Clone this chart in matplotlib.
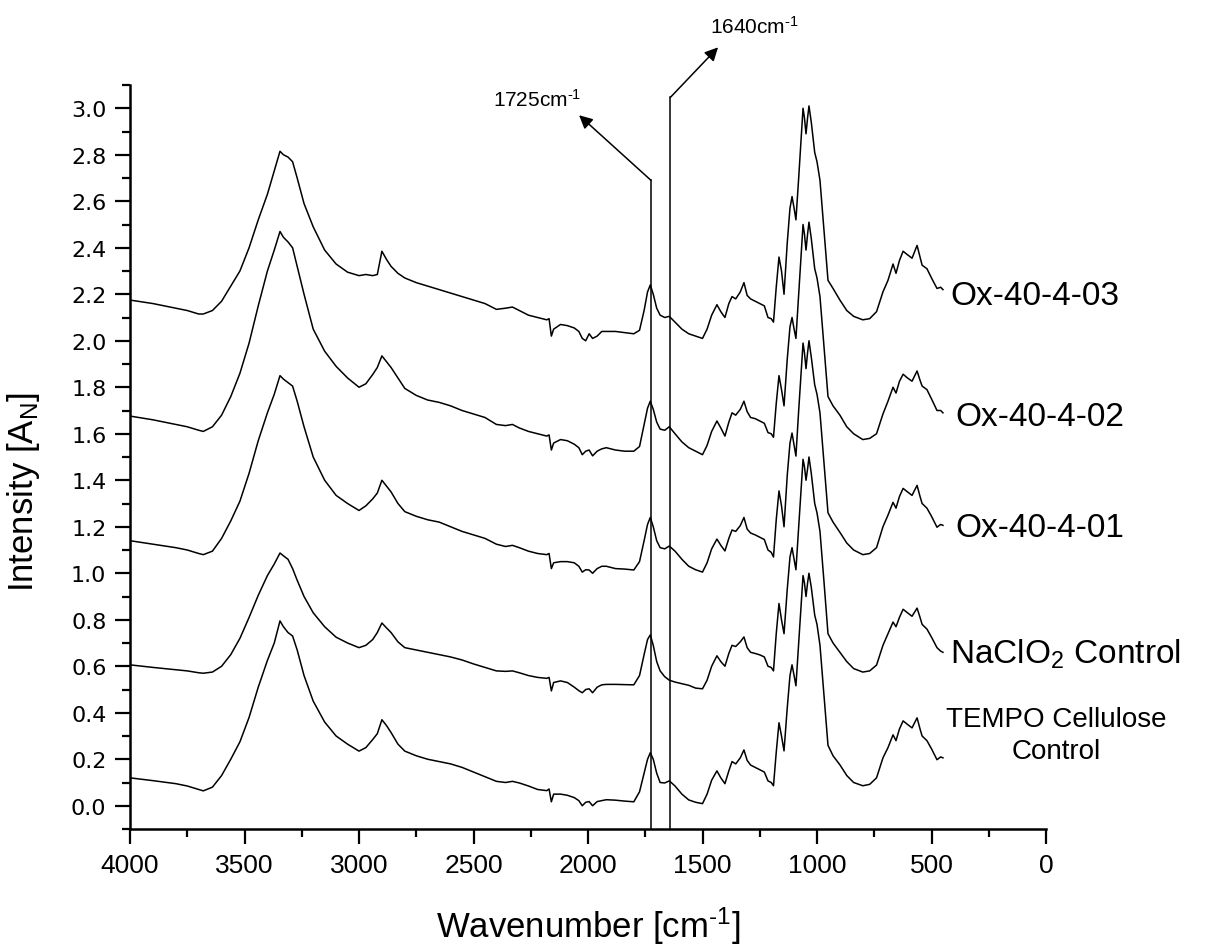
import numpy as np
import matplotlib.pyplot as plt
from matplotlib.ticker import MultipleLocator, FormatStrFormatter

plt.rcParams['mathtext.fontset'] = 'custom'
plt.rcParams['mathtext.rm'] = 'Liberation Sans'
plt.rcParams['mathtext.it'] = 'Liberation Sans:italic'

# wavenumber grid (cm-1) shared by all spectra
wn = [4000, 3900, 3800, 3750, 3700, 3680, 3640, 3600, 3560, 3520, 3480, 3440, 3400, 3370,
      3345, 3330, 3310, 3290, 3270, 3240, 3200, 3150, 3100, 3050, 3000, 2970, 2940, 2920,
      2900, 2880, 2860, 2830, 2800, 2750, 2700, 2650, 2600, 2550, 2500, 2450, 2400, 2360,
      2330, 2300, 2260, 2220, 2180, 2170, 2160, 2150, 2120, 2090, 2060, 2040, 2025, 2010,
      1995, 1980, 1960, 1940, 1920, 1880, 1840, 1800, 1775, 1755, 1740, 1728, 1715, 1700,
      1685, 1665, 1645, 1620, 1590, 1560, 1530, 1500, 1480, 1460, 1437, 1420, 1402, 1385,
      1371, 1355, 1335, 1319, 1305, 1290, 1270, 1250, 1230, 1214, 1200, 1190, 1178, 1166,
      1155, 1144, 1130, 1118, 1109, 1100, 1092, 1080, 1061, 1055, 1048, 1041, 1035, 1025,
      1010, 1000, 987, 970, 952, 930, 900, 870, 840, 800, 770, 740, 712, 690, 668, 655,
      640, 624, 605, 585, 563, 550, 541, 520, 500, 476, 460, 450]

tempo = [0.120, 0.108, 0.095, 0.085, 0.070, 0.064, 0.080, 0.130, 0.200, 0.275, 0.380, 0.510, 0.625, 0.700,
         0.795, 0.770, 0.745, 0.730, 0.670, 0.560, 0.450, 0.360, 0.300, 0.265, 0.235, 0.250, 0.285, 0.310,
         0.370, 0.345, 0.315, 0.265, 0.235, 0.215, 0.200, 0.190, 0.180, 0.165, 0.145, 0.125, 0.105, 0.100,
         0.105, 0.098, 0.085, 0.070, 0.065, 0.072, 0.017, 0.050, 0.050, 0.045, 0.035, 0.022, 0.000, 0.015,
         0.018, 0.000, 0.018, 0.022, 0.026, 0.024, 0.020, 0.017, 0.060, 0.140, 0.200, 0.228, 0.200, 0.140,
         0.100, 0.098, 0.107, 0.085, 0.050, 0.025, 0.015, 0.009, 0.050, 0.110, 0.150, 0.120, 0.095, 0.150,
         0.190, 0.180, 0.206, 0.240, 0.195, 0.175, 0.165, 0.155, 0.145, 0.107, 0.100, 0.086, 0.230, 0.357,
         0.300, 0.236, 0.420, 0.560, 0.606, 0.560, 0.516, 0.700, 0.990, 0.960, 0.900, 0.960, 1.000, 0.940,
         0.820, 0.780, 0.690, 0.480, 0.260, 0.215, 0.176, 0.130, 0.100, 0.086, 0.092, 0.120, 0.206, 0.250,
         0.305, 0.280, 0.330, 0.365, 0.350, 0.335, 0.378, 0.330, 0.300, 0.280, 0.245, 0.198, 0.210, 0.206]

naclo2 = [0.606, 0.595, 0.585, 0.580, 0.572, 0.570, 0.575, 0.600, 0.650, 0.720, 0.810, 0.905, 0.990, 1.040,
          1.087, 1.075, 1.060, 1.020, 0.970, 0.900, 0.830, 0.770, 0.725, 0.700, 0.680, 0.690, 0.715, 0.745,
          0.786, 0.765, 0.745, 0.705, 0.680, 0.670, 0.660, 0.650, 0.640, 0.627, 0.610, 0.595, 0.580, 0.578,
          0.580, 0.572, 0.560, 0.552, 0.548, 0.552, 0.494, 0.530, 0.537, 0.530, 0.510, 0.495, 0.486, 0.500,
          0.503, 0.486, 0.510, 0.520, 0.522, 0.522, 0.521, 0.520, 0.560, 0.650, 0.715, 0.735, 0.690, 0.620,
          0.580, 0.555, 0.540, 0.532, 0.525, 0.518, 0.506, 0.503, 0.540, 0.600, 0.645, 0.620, 0.600, 0.655,
          0.690, 0.685, 0.705, 0.726, 0.680, 0.660, 0.655, 0.649, 0.640, 0.600, 0.595, 0.580, 0.740, 0.870,
          0.800, 0.740, 0.930, 1.070, 1.110, 1.060, 1.015, 1.200, 1.490, 1.460, 1.400, 1.450, 1.500, 1.430,
          1.300, 1.260, 1.180, 0.970, 0.740, 0.700, 0.660, 0.620, 0.590, 0.575, 0.580, 0.605, 0.690, 0.740,
          0.790, 0.770, 0.810, 0.845, 0.830, 0.815, 0.850, 0.810, 0.780, 0.760, 0.725, 0.680, 0.665, 0.660]

ox01 = [1.140, 1.125, 1.110, 1.100, 1.085, 1.080, 1.095, 1.150, 1.225, 1.310, 1.430, 1.570, 1.690, 1.770,
        1.850, 1.835, 1.820, 1.805, 1.740, 1.630, 1.500, 1.400, 1.335, 1.300, 1.270, 1.290, 1.320, 1.345,
        1.400, 1.375, 1.350, 1.300, 1.265, 1.245, 1.230, 1.220, 1.200, 1.180, 1.165, 1.150, 1.125, 1.115,
        1.120, 1.110, 1.095, 1.085, 1.080, 1.085, 1.020, 1.045, 1.050, 1.050, 1.045, 1.030, 1.005, 1.015,
        1.014, 1.000, 1.020, 1.030, 1.030, 1.020, 1.018, 1.014, 1.050, 1.140, 1.210, 1.240, 1.200, 1.140,
        1.110, 1.105, 1.117, 1.095, 1.060, 1.030, 1.015, 1.005, 1.045, 1.105, 1.147, 1.120, 1.096, 1.150,
        1.186, 1.180, 1.205, 1.240, 1.190, 1.173, 1.165, 1.155, 1.145, 1.100, 1.090, 1.070, 1.230, 1.354,
        1.290, 1.200, 1.420, 1.560, 1.603, 1.550, 1.504, 1.700, 1.990, 1.950, 1.880, 1.950, 2.000, 1.930,
        1.810, 1.770, 1.690, 1.480, 1.260, 1.220, 1.176, 1.130, 1.100, 1.080, 1.085, 1.110, 1.200, 1.250,
        1.305, 1.280, 1.330, 1.365, 1.350, 1.335, 1.378, 1.330, 1.300, 1.280, 1.245, 1.198, 1.210, 1.206]

ox02 = [1.676, 1.660, 1.640, 1.630, 1.615, 1.610, 1.630, 1.680, 1.760, 1.860, 1.990, 2.150, 2.300, 2.390,
        2.470, 2.445, 2.425, 2.400, 2.320, 2.200, 2.050, 1.955, 1.890, 1.840, 1.800, 1.815, 1.855, 1.885,
        1.935, 1.910, 1.885, 1.840, 1.795, 1.765, 1.745, 1.735, 1.720, 1.700, 1.685, 1.670, 1.640, 1.635,
        1.640, 1.625, 1.610, 1.600, 1.590, 1.595, 1.530, 1.560, 1.575, 1.570, 1.555, 1.540, 1.510, 1.525,
        1.530, 1.505, 1.525, 1.535, 1.540, 1.530, 1.525, 1.525, 1.545, 1.640, 1.710, 1.740, 1.705, 1.650,
        1.620, 1.615, 1.630, 1.600, 1.565, 1.540, 1.525, 1.510, 1.550, 1.610, 1.655, 1.625, 1.590, 1.650,
        1.690, 1.680, 1.705, 1.740, 1.695, 1.670, 1.665, 1.655, 1.645, 1.605, 1.600, 1.585, 1.730, 1.850,
        1.790, 1.720, 1.920, 2.060, 2.100, 2.050, 2.010, 2.200, 2.500, 2.460, 2.390, 2.460, 2.510, 2.440,
        2.310, 2.270, 2.190, 1.980, 1.760, 1.720, 1.680, 1.630, 1.600, 1.575, 1.580, 1.600, 1.685, 1.740,
        1.800, 1.775, 1.825, 1.856, 1.840, 1.826, 1.870, 1.830, 1.805, 1.790, 1.750, 1.700, 1.700, 1.690]

ox03 = [2.175, 2.160, 2.140, 2.130, 2.115, 2.115, 2.130, 2.170, 2.235, 2.300, 2.400, 2.520, 2.630, 2.730,
        2.815, 2.800, 2.790, 2.770, 2.700, 2.590, 2.490, 2.390, 2.330, 2.295, 2.280, 2.285, 2.280, 2.285,
        2.385, 2.350, 2.320, 2.290, 2.270, 2.250, 2.235, 2.220, 2.205, 2.190, 2.175, 2.160, 2.135, 2.140,
        2.145, 2.130, 2.110, 2.100, 2.090, 2.095, 2.020, 2.050, 2.070, 2.065, 2.055, 2.040, 2.010, 2.000,
        2.030, 2.010, 2.020, 2.040, 2.040, 2.040, 2.035, 2.030, 2.045, 2.130, 2.210, 2.240, 2.200, 2.140,
        2.110, 2.100, 2.105, 2.080, 2.050, 2.030, 2.020, 2.010, 2.050, 2.110, 2.155, 2.125, 2.100, 2.160,
        2.190, 2.180, 2.210, 2.250, 2.195, 2.180, 2.170, 2.160, 2.150, 2.100, 2.095, 2.080, 2.230, 2.360,
        2.300, 2.200, 2.420, 2.570, 2.620, 2.570, 2.520, 2.700, 3.000, 2.960, 2.890, 2.960, 3.010, 2.940,
        2.810, 2.770, 2.690, 2.480, 2.260, 2.225, 2.175, 2.130, 2.105, 2.090, 2.095, 2.125, 2.210, 2.260,
        2.330, 2.290, 2.345, 2.385, 2.370, 2.355, 2.410, 2.360, 2.325, 2.310, 2.270, 2.225, 2.230, 2.220]

spectra = [tempo, naclo2, ox01, ox02, ox03]
labels = ['TEMPO Cellulose\nControl', r'NaClO$_{\rm 2}$ Control', 'Ox-40-4-01', 'Ox-40-4-02', 'Ox-40-4-03']
label_x = [-44, 419, 397, 397, 419]
label_y = [0.305, 0.657, 1.195, 1.676, 2.196]
label_size = [20, 24, 24, 24, 24]

fig = plt.figure(figsize=(12.21, 9.53), dpi=100)
ax = fig.add_axes([130/1221, 123/953, 916/1221, 744/953])

for s in spectra:
    ax.plot(wn, s, color='black', lw=1.1)

ax.set_xlim(4000, 0)
ax.set_ylim(-0.1, 3.1)

# marker lines for the carbonyl bands
ax.plot([1725, 1725], [-0.1, 2.69], color='black', lw=1.1)
ax.plot([1640, 1640], [-0.1, 3.047], color='black', lw=1.1)
ax.annotate('', xy=(2039, 2.97), xytext=(1725, 2.69), annotation_clip=False,
            arrowprops=dict(arrowstyle='-|>', color='black', lw=1.1, mutation_scale=20, shrinkA=0, shrinkB=0))
ax.annotate('', xy=(1432, 3.262), xytext=(1640, 3.047), annotation_clip=False,
            arrowprops=dict(arrowstyle='-|>', color='black', lw=1.1, mutation_scale=20, shrinkA=0, shrinkB=0))
ax.text(2223, 3.04, r'1725cm$^{\text{-1}}$', ha='center', va='center', fontsize=15,
        family='Liberation Sans', clip_on=False)
ax.text(1275, 3.356, r'1640cm$^{\text{-1}}$', ha='center', va='center', fontsize=15,
        family='Liberation Sans', clip_on=False)

for lab, lx, ly, fs in zip(labels, label_x, label_y, label_size):
    ha = 'center' if '\n' in lab else 'left'
    ax.text(lx, ly, lab, ha=ha, va='center', fontsize=fs, family='Liberation Sans',
            multialignment='center', clip_on=False, linespacing=1.3)

ax.xaxis.set_major_locator(MultipleLocator(500))
ax.xaxis.set_minor_locator(MultipleLocator(250))
ax.yaxis.set_major_locator(MultipleLocator(0.2))
ax.yaxis.set_minor_locator(MultipleLocator(0.1))
ax.yaxis.set_major_formatter(FormatStrFormatter('%.1f'))

ax.spines['top'].set_visible(False)
ax.spines['right'].set_visible(False)
ax.spines['left'].set_linewidth(1.8)
ax.spines['bottom'].set_linewidth(1.8)
ax.tick_params(which='major', direction='out', length=11, width=1.6)
ax.tick_params(which='minor', direction='out', length=6, width=1.6)
ax.tick_params(axis='x', labelsize=19, labelfontfamily='Liberation Sans', pad=6)
ax.tick_params(axis='y', labelsize=16, labelfontfamily='DejaVu Sans', pad=6)

ax.set_xlabel(r'Wavenumber [cm$^{\text{-1}}$]', family='Liberation Sans', fontsize=25, labelpad=20)
ax.set_ylabel(r'Intensity [A$_{\rm N}$]', family='Liberation Sans', fontsize=25)
ax.yaxis.set_label_coords(-0.096, 0.454)

fig.savefig('out.png', dpi=100)
